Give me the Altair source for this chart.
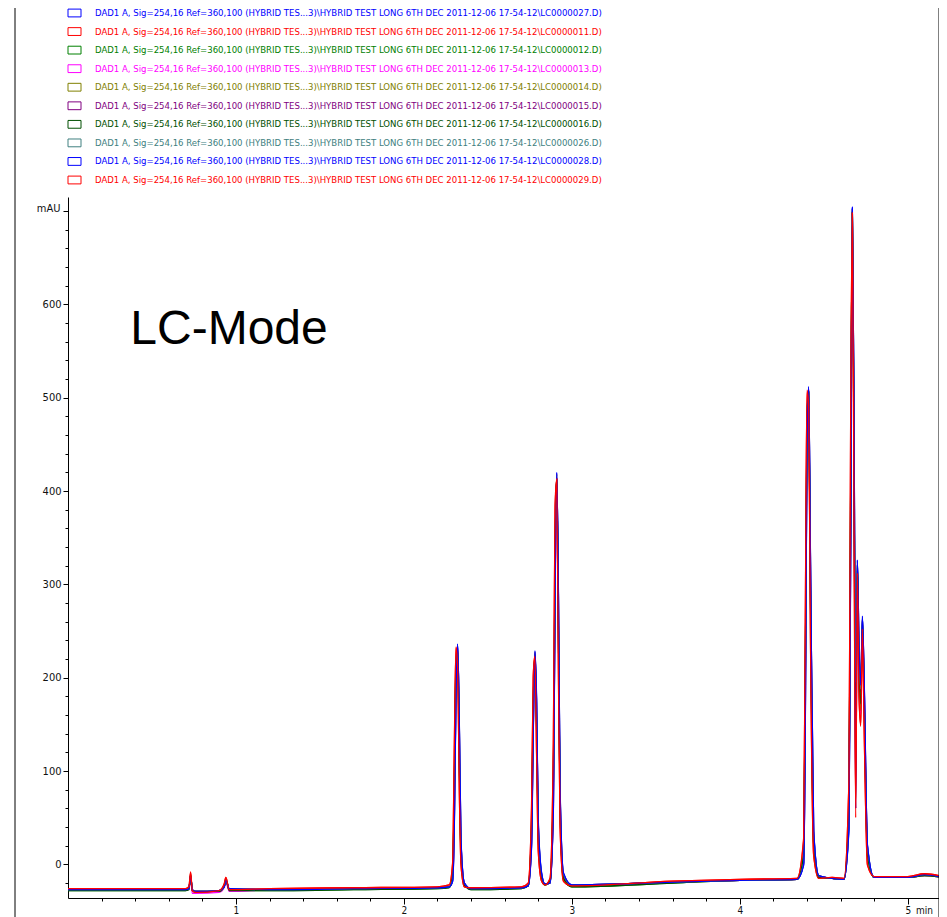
import altair as alt
import pandas as pd

# ---------------- data ----------------
TIME = [0.00, 0.70, 0.72, 0.73, 0.74, 0.76, 0.90, 0.93, 0.94, 0.96, 1.20, 1.70, 2.20,
        2.27, 2.29, 2.30, 2.31, 2.32, 2.33, 2.34, 2.36, 2.40,
        2.70, 2.74, 2.76, 2.77, 2.78, 2.79, 2.80, 2.82, 2.84, 2.87, 2.89, 2.90, 2.91, 2.92, 2.93, 2.95, 3.00,
        3.60, 4.00, 4.34,
        4.38, 4.39, 4.40, 4.41, 4.42, 4.44, 4.47, 4.55, 4.62,
        4.65, 4.66, 4.67, 4.68, 4.69, 4.70, 4.71, 4.72, 4.73, 4.74, 4.76, 4.80,
        5.00, 5.10, 5.21]

LC27 = [-27, -27, -26, -12, -27, -29, -28, -24, -17, -26, -27, -26, -25,
        -24, -18, 40, 180, 236, 150, 25, -20, -26,
        -25, -23, 20, 140, 228, 175, 45, -10, -21, -20, 60, 290, 419, 290, 80, -10, -22,
        -19, -17, -16,
        0, 150, 450, 511, 340, 35, -12, -15, -16,
        40, 340, 703, 470, 190, 326, 230, 190, 265, 200, 20, -14,
        -14, -11, -14]
LC11 = [-26, -26, -24, -9, -28, -30, -28, -21, -14, -27, -26, -25, -24,
        -22, 0, 120, 232, 215, 80, 0, -24, -25,
        -24, -20, 60, 200, 224, 120, 15, -18, -22, -15, 130, 380, 412, 210, 40, -18, -23,
        -18, -16, -15,
        25, 260, 505, 495, 260, 10, -15, -14, -15,
        90, 470, 697, 380, 60, 315, 180, 150, 255, 150, 0, -13,
        -13, -10, -13]
LC12 = [-28, -28, -26, -11, -28, -30, -29, -23, -16, -28, -28, -27, -26,
        -25, -10, 80, 215, 230, 110, 10, -22, -27,
        -26, -23, 40, 170, 226, 150, 30, -15, -22, -18, 90, 330, 416, 250, 60, -15, -24,
        -20, -17, -16,
        10, 200, 480, 506, 300, 20, -14, -15, -16,
        60, 400, 698, 420, 150, 320, 200, 170, 260, 180, 10, -14,
        -14, -12, -14]
LC13 = [-27, -27, -27, -14, -31, -31, -30, -25, -19, -29, -27, -26, -25,
        -24, -12, 70, 205, 233, 120, 15, -21, -26,
        -25, -22, 35, 160, 227, 155, 35, -13, -21, -19, 80, 320, 417, 260, 65, -14, -23,
        -19, -17, -16,
        8, 190, 470, 508, 310, 25, -13, -15, -16,
        55, 390, 699, 430, 120, 322, 210, 160, 262, 185, 12, -14,
        -14, -12, -14]
LC14 = [-27, -27, -26, -12, -28, -29, -29, -23, -16, -27, -27, -26, -25,
        -24, -11, 75, 210, 232, 115, 12, -22, -26,
        -25, -22, 38, 165, 225, 152, 32, -14, -22, -18, 85, 325, 415, 255, 62, -15, -23,
        -19, -17, -16,
        9, 195, 475, 507, 305, 22, -14, -15, -16,
        58, 395, 700, 425, 100, 318, 205, 165, 258, 182, 11, -14,
        -14, -12, -14]
LC15 = [-27, -27, -26, -12, -27, -29, -28, -24, -17, -26, -27, -26, -25,
        -24, -16, 45, 185, 234, 145, 22, -20, -26,
        -25, -23, 25, 145, 227, 170, 42, -11, -21, -20, 65, 295, 418, 285, 75, -11, -22,
        -19, -17, -16,
        2, 160, 455, 510, 335, 32, -12, -15, -16,
        45, 350, 702, 465, 200, 324, 225, 185, 264, 195, 18, -14,
        -14, -11, -14]
LC16 = [-28, -28, -27, -13, -28, -29, -29, -24, -17, -28, -28, -27, -26,
        -25, -11, 78, 212, 231, 112, 11, -22, -27,
        -26, -23, 42, 172, 225, 148, 30, -15, -22, -18, 88, 328, 416, 252, 60, -15, -24,
        -20, -17, -16,
        10, 198, 478, 506, 302, 21, -14, -15, -16,
        60, 398, 699, 422, 170, 321, 202, 172, 261, 181, 10, -14,
        -14, -12, -14]
LC26 = [-27, -27, -26, -12, -27, -29, -28, -24, -17, -26, -27, -26, -25,
        -24, -17, 42, 182, 235, 148, 24, -20, -26,
        -25, -23, 22, 142, 228, 172, 44, -10, -21, -20, 62, 292, 418, 288, 78, -10, -22,
        -19, -17, -16,
        1, 155, 452, 510, 338, 34, -12, -15, -16,
        42, 345, 702, 468, 195, 325, 228, 188, 265, 198, 19, -14,
        -14, -11, -14]
LC28 = [-27, -27, -26, -12, -27, -29, -28, -24, -17, -26, -27, -26, -25,
        -24, -18, 38, 178, 236, 152, 26, -20, -26,
        -25, -23, 18, 138, 229, 178, 48, -9, -21, -20, 58, 288, 420, 292, 82, -9, -22,
        -19, -17, -16,
        -1, 148, 448, 512, 342, 36, -12, -15, -16,
        38, 335, 704, 472, 60, 326, 232, 192, 266, 202, 21, -14,
        -14, -11, -14]
LC29 = [-26, -26, -24, -8, -28, -30, -28, -21, -14, -27, -26, -25, -24,
        -22, 2, 125, 233, 212, 78, -1, -24, -25,
        -24, -20, 62, 202, 223, 118, 14, -18, -22, -15, 135, 385, 413, 205, 38, -18, -23,
        -18, -16, -15,
        28, 265, 508, 492, 255, 9, -15, -14, -15,
        92, 475, 698, 375, 50, 312, 178, 148, 252, 148, -1, -13,
        -13, -10, -13]

TRACE_IDS = ["LC0000027", "LC0000011", "LC0000012", "LC0000013", "LC0000014",
             "LC0000015", "LC0000016", "LC0000026", "LC0000028", "LC0000029"]
SERIES = [LC27, LC11, LC12, LC13, LC14, LC15, LC16, LC26, LC28, LC29]
COLORS = ["#0000FF", "#FF0000", "#008000", "#FF00FF", "#808000",
          "#800080", "#004F00", "#408080", "#0000FF", "#FF0000"]
LABEL_PREFIX = "DAD1 A, Sig=254,16 Ref=360,100 (HYBRID TES...3)\\HYBRID TEST LONG 6TH DEC 2011-12-06 17-54-12\\"
LABEL_SUFFIX = ".D)"

X_TICKS = [1, 2, 3, 4, 5]
X_MINOR = [0.2, 0.4, 0.6, 0.8, 1.0, 1.2, 1.4, 1.6, 1.8, 2.0, 2.2, 2.4, 2.6, 2.8, 3.0,
           3.2, 3.4, 3.6, 3.8, 4.0, 4.2, 4.4, 4.6, 4.8, 5.0]
Y_TICKS = [0, 100, 200, 300, 400, 500, 600, 700]
Y_MINOR = [-20, 0, 20, 40, 60, 80, 100, 120, 140, 160, 180, 200, 220, 240, 260, 280, 300,
           320, 340, 360, 380, 400, 420, 440, 460, 480, 500, 520, 540, 560, 580, 600,
           620, 640, 660, 680, 700]

ANNOTATION = ["LC-Mode"]
ANNOTATION_T = [0.371]
ANNOTATION_V = [558]

# ---------------- tables ----------------
for s in SERIES:
    assert len(s) == len(TIME)

df = pd.DataFrame([
    {"t": t, "v": v, "trace": tid}
    for tid, vals in zip(TRACE_IDS, SERIES)
    for t, v in zip(TIME, vals)
])
legend_df = pd.DataFrame({
    "trace": TRACE_IDS,
    "label": [LABEL_PREFIX + tid + LABEL_SUFFIX for tid in TRACE_IDS],
})
ann_df = pd.DataFrame({"t": ANNOTATION_T, "v": ANNOTATION_V, "text": ANNOTATION})

NARROW = "Liberation Sans Narrow, DejaVu Sans Condensed, Arial Narrow, sans-serif"

W, H = 871, 701
x_scale = alt.Scale(domain=[0, 5.186], nice=False, zero=False)
y_scale = alt.Scale(domain=[-36, 715], nice=False, zero=False)
color_scale = alt.Scale(domain=TRACE_IDS, range=COLORS)

minor = alt.Chart(df).mark_line(opacity=0).encode(
    x=alt.X("t:Q", scale=x_scale, axis=alt.Axis(values=X_MINOR, labels=False, tickSize=3,
                                                domain=False, grid=False, title=None,
                                                tickColor="black", orient="bottom")),
    y=alt.Y("v:Q", scale=y_scale, axis=alt.Axis(values=Y_MINOR, labels=False, tickSize=3,
                                                domain=False, grid=False, title=None,
                                                tickColor="black", orient="left")),
    detail="trace:N",
)

lines = alt.Chart(df).mark_line(strokeWidth=1.3, interpolate="monotone").encode(
    x=alt.X("t:Q", scale=x_scale,
            axis=alt.Axis(values=X_TICKS, format="d", tickSize=6, grid=False,
                          domainColor="black", tickColor="black", labelColor="#111",
                          labelFont=NARROW, labelFontSize=10, labelPadding=1,
                          title="min", titleX=856, titleY=7, titleBaseline="top",
                          titleAlign="center", titleFontWeight="normal", titleFont=NARROW,
                          titleFontSize=10, titleColor="#111", orient="bottom")),
    y=alt.Y("v:Q", scale=y_scale,
            axis=alt.Axis(values=Y_TICKS, labelExpr="datum.value == 700 ? '' : datum.label",
                          tickSize=5, grid=False, domainColor="black", tickColor="black",
                          labelColor="#111", labelFont=NARROW, labelFontSize=11, labelPadding=2,
                          title="mAU", titleAngle=0, titleX=-8, titleY=11, titleAlign="right",
                          titleBaseline="middle", titleFontWeight="normal", titleFont=NARROW,
                          titleFontSize=11, titleColor="#111", orient="left")),
    color=alt.Color("trace:N", scale=color_scale, legend=None),
)

leg_y = alt.Y("trace:N", scale=alt.Scale(type="point", domain=TRACE_IDS, range=[-184, -17],
                                         padding=0), axis=None)
legend_sym = alt.Chart(legend_df).mark_point(shape="M-1,-0.6H1V0.6H-1Z", size=169, filled=False,
                                             strokeWidth=1, opacity=1).encode(
    x=alt.value(6.5), y=leg_y, color=alt.Color("trace:N", scale=color_scale, legend=None))
legend_txt = alt.Chart(legend_df).mark_text(align="left", baseline="middle", font=NARROW,
                                            fontSize=9.5).encode(
    x=alt.value(27), y=leg_y, text="label:N",
    color=alt.Color("trace:N", scale=color_scale, legend=None))

ann = alt.Chart(ann_df).mark_text(align="left", baseline="alphabetic", fontSize=48,
                                  font="Liberation Sans, Arial, sans-serif", color="black").encode(
    x=alt.X("t:Q", scale=x_scale, axis=None),
    y=alt.Y("v:Q", scale=y_scale, axis=None),
    text="text:N")

frame_df = pd.DataFrame({"k": [0]})
right_border = alt.Chart(frame_df).mark_rule(color="black", strokeWidth=1).encode(
    x=alt.value(W), y=alt.value(-189), y2=alt.value(H + 19))
left_border = alt.Chart(frame_df).mark_rule(color="black", strokeWidth=1).encode(
    x=alt.value(-53), y=alt.value(-189), y2=alt.value(H + 19))

chart = alt.layer(
    minor, lines, legend_sym, legend_txt, ann, right_border, left_border
).resolve_scale(y="independent").resolve_axis(x="independent", y="independent").properties(
    width=W, height=H, autosize="none",
    padding={"left": 60, "top": 189, "right": 0, "bottom": 19},
).configure_view(stroke=None)

chart.save("out.html", embed_options={"renderer": "svg", "actions": False})
